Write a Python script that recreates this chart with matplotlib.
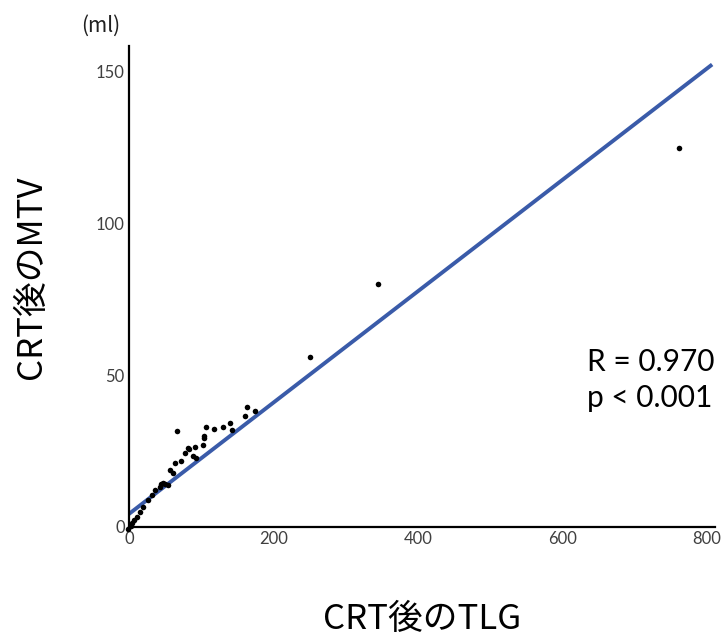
import matplotlib
matplotlib.use("Agg")
import matplotlib.pyplot as plt
import numpy as np

# CRT後のTLG (x) vs CRT後のMTV (y)
tlg = [-2, 2.8, 4.6, 6.9, 10.6, 15.2, 19.8, 26.8, 32, 36,
       43, 45, 47, 50, 54, 56.7, 60.3, 63.7, 66, 72,
       77.5, 82, 83.4, 88, 91.3, 93, 101.8, 103.8, 104.5, 106.6,
       117.6, 129.6, 139.8, 142, 160.5, 162.9, 175, 250.5, 344.6, 761]
mtv = [-0.7, 0.2, 1.2, 2.3, 3.4, 5.0, 6.7, 8.9, 10.5, 12.2,
       13.2, 14.2, 14.6, 14.0, 13.9, 18.8, 17.7, 21.0, 31.5, 21.9,
       24.3, 26.0, 25.6, 23.4, 26.5, 22.6, 27.0, 30.0, 29.3, 32.9,
       32.3, 32.8, 34.4, 32.0, 36.6, 39.5, 38.3, 56.1, 80.2, 125.0]

fit_intercept = 4.3
fit_slope = 0.1835
fit_x = [0, 805]

x_ticks = [0, 200, 400, 600, 800]
y_ticks = [0, 50, 100, 150]

JP = ["Noto Sans CJK JP", "DejaVu Sans"]

fig = plt.figure(figsize=(7.27, 6.39), dpi=100)
ax = fig.add_axes([0.1774, 0.1753, 0.806, 0.7527])

fx = np.array(fit_x)
ax.plot(fx, fit_intercept + fit_slope * fx, color="#3A5BA9", lw=2.8, zorder=2)
ax.scatter(tlg, mtv, s=16, color="black", zorder=3, clip_on=False, linewidths=0)

ax.set_xlim(0, 811)
ax.set_ylim(0, 158.5)
ax.spines["top"].set_visible(False)
ax.spines["right"].set_visible(False)
for s in ("left", "bottom"):
    ax.spines[s].set_linewidth(1.6)
    ax.spines[s].set_color("black")

ax.set_xticks(x_ticks)
ax.set_yticks(y_ticks)
ax.tick_params(length=0, pad=3, labelsize=12, labelcolor="#404040")
for lab in ax.get_xticklabels() + ax.get_yticklabels():
    lab.set_family(["Lato", "DejaVu Sans"])

fig.text(0.044, 0.566, "CRT後のMTV", rotation=90, ha="center", va="center",
         fontsize=25, family=JP)
fig.text(0.580, 0.030, "CRT後のTLG", ha="center", va="center",
         fontsize=25, family=JP)
fig.text(0.138, 0.960, "(ml)", ha="center", va="center", fontsize=15,
         family=JP, color="#202020")

fig.text(0.808, 0.405, "R = 0.970\np < 0.001", ha="left", va="center",
         fontsize=21.5, family=["Lato", "DejaVu Sans"], linespacing=1.35)

fig.savefig("out.png", dpi=100)
